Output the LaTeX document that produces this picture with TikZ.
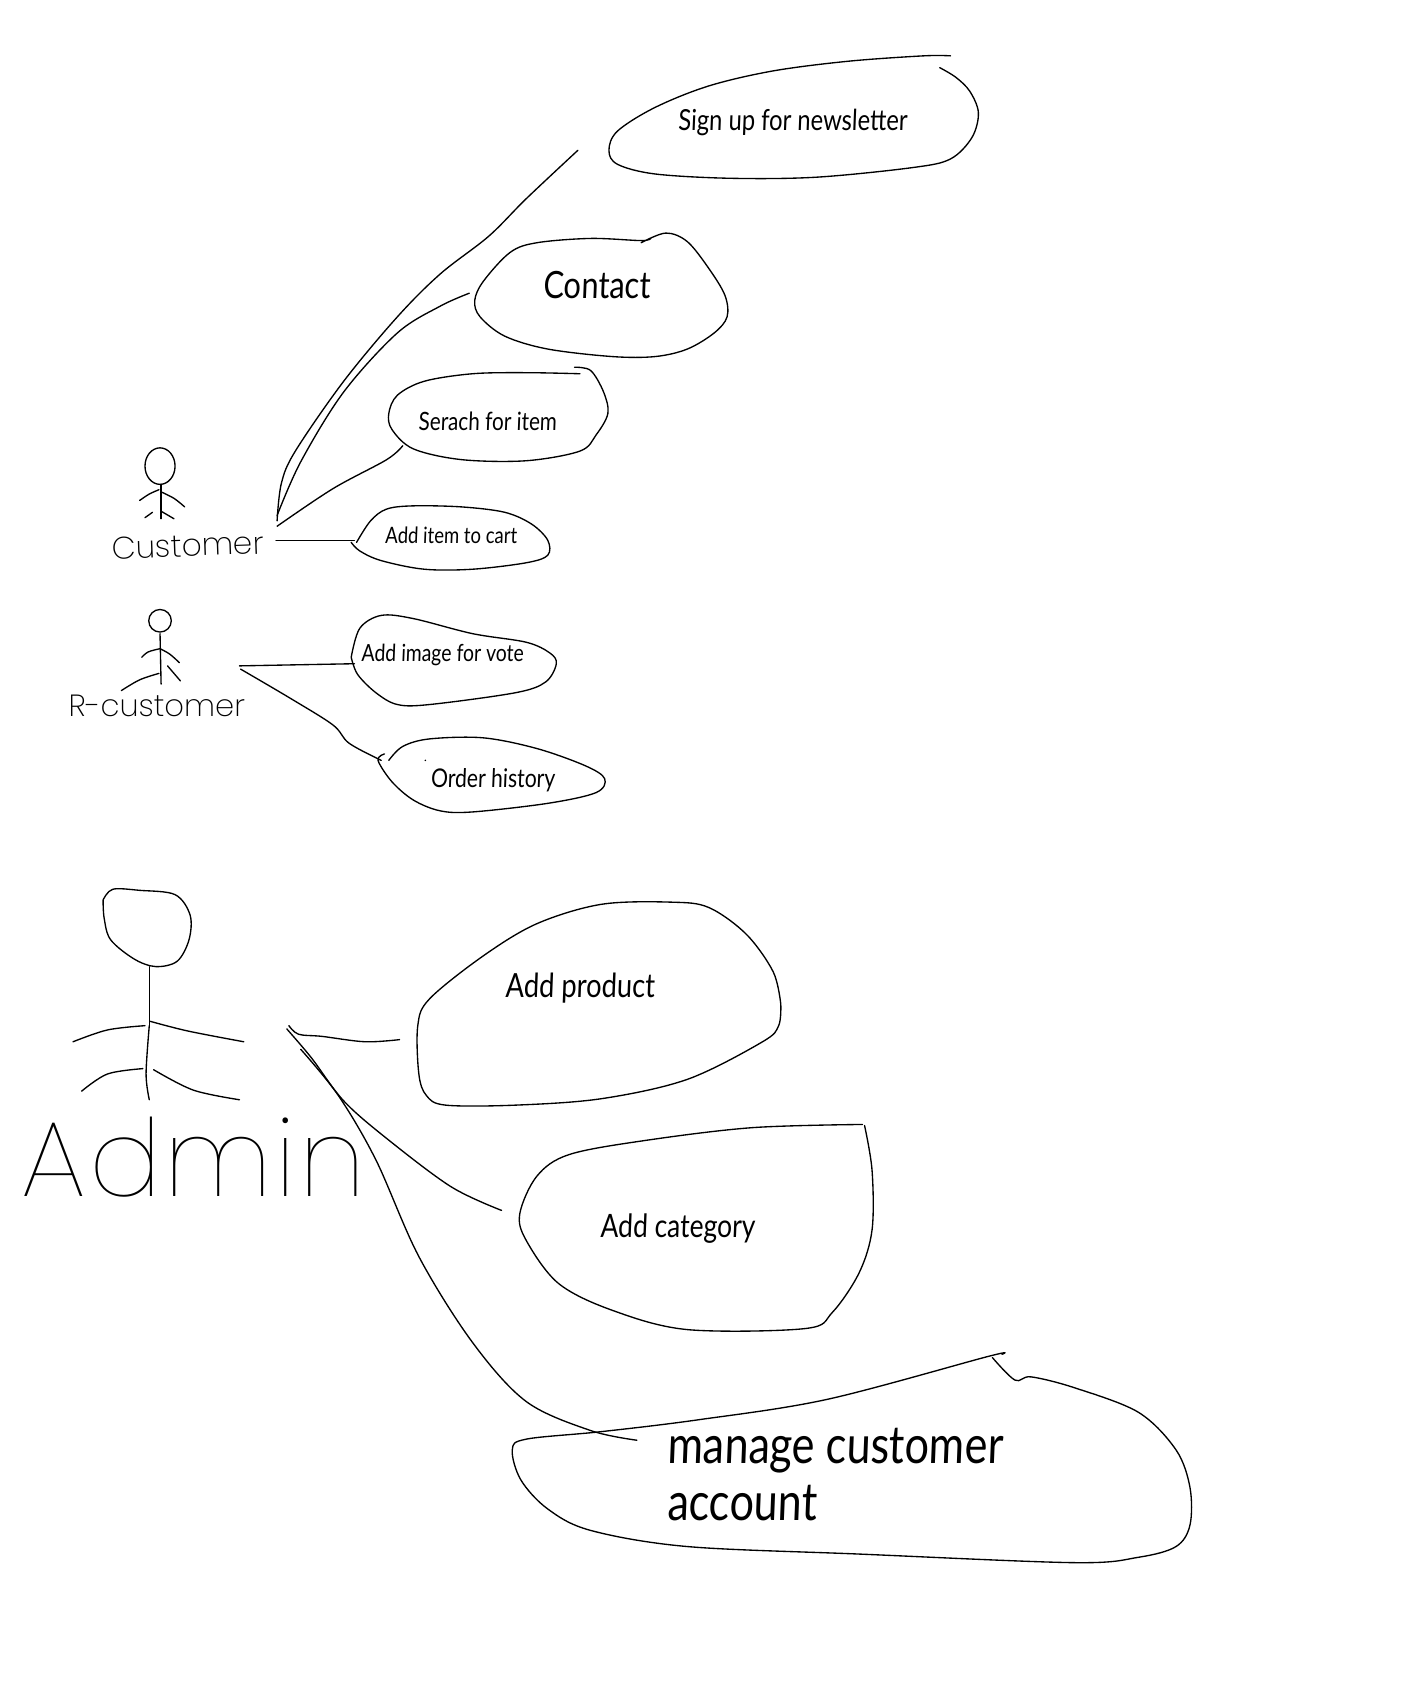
\documentclass[tikz,border=0pt]{standalone}
\usepackage{fontspec}
\setmainfont{Lato}
\newfontfamily\handfont[FakeStretch=0.82,FakeSlant=0.04]{Lato}
\newfontfamily\sketchfont{Poppins Thin}
\newfontfamily\sketchsmallfont{Poppins ExtraLight}
\newcommand{\fsz}[1]{\fontsize{#1}{#1}\selectfont}
\tikzset{
  ink/.style={draw=black,line width=1.25pt,line cap=round,line join=round},
  blob/.style={ink,smooth,tension=0.55},
  wire/.style={ink,smooth,tension=0.55},
  label/.style={font=\handfont,text=black,inner sep=0pt,align=left},
  sketchlabel/.style={font=\sketchfont,text=black,inner sep=0pt}
}
\begin{document}
\begin{tikzpicture}[x=1pt,y=-1pt]
\useasboundingbox (0,0) rectangle (1313,1568);
% use-case outlines
\draw[blob] plot coordinates {(885,52)(860,52)(790,57)(720,66)(660,80)(610,100)(575,122)(567,140)(575,153)(610,162)(680,166)(760,165)(850,156)(885,148)(905,128)(911,105)(903,85)(890,72)(875,63)};
\draw[blob] plot coordinates {(597,226)(620,217)(640,225)(660,250)(675,275)(677,295)(665,310)(640,325)(610,332)(570,332)(510,325)(470,313)(447,295)(442,280)(450,262)(475,235)(500,226)(550,222)(597,224)(606,222)};
\draw[blob] plot coordinates {(535,342)(550,345)(562,365)(566,385)(555,405)(540,420)(490,429)(430,428)(385,418)(365,400)(362,385)(370,368)(395,355)(440,348)(490,347)(540,348)};
\draw[blob] plot coordinates {(332,505)(345,485)(360,474)(385,471)(430,472)(470,477)(495,488)(510,503)(510,517)(490,524)(440,530)(395,530)(355,522)(335,513)(327,505)};
\draw[blob] plot coordinates {(327,612)(335,585)(355,573)(385,576)(440,590)(490,598)(512,608)(518,618)(508,635)(480,645)(400,656)(370,656)(350,645)(333,628)(327,612)};
\draw[blob] plot coordinates {(362,708)(375,695)(400,688)(450,687)(500,697)(545,713)(563,725)(555,738)(510,748)(440,756)(410,755)(385,745)(365,728)(352,708)(358,702)};
\fill (396,708) circle (0.8);
\draw[blob] plot coordinates {(727,935)(720,905)(695,870)(660,845)(625,840)(560,842)(500,860)(450,890)(400,930)(389,955)(390,1000)(397,1020)(415,1029)(480,1029)(560,1023)(640,1005)(710,970)(725,955)(727,935)};
\draw[blob] plot coordinates {(803,1047)(700,1050)(600,1062)(530,1075)(500,1095)(484,1130)(490,1155)(520,1195)(570,1220)(640,1238)(750,1237)(775,1222)(800,1185)(812,1145)(812,1090)(805,1048)};
\draw[blob] plot coordinates {(933,1261)(920,1263)(770,1303)(650,1322)(560,1333)(490,1340)(477,1350)(485,1378)(510,1405)(550,1425)(640,1440)(800,1447)(1000,1455)(1060,1450)(1095,1440)(1108,1420)(1108,1385)(1095,1350)(1060,1315)(1000,1292)(960,1282)(945,1285)(924,1264)};
% use-case labels
\node[label,font=\handfont\fsz{27}] (signup) at (738,114) {Sign up for newsletter};
\node[label,font=\handfont\fsz{35}] (contact) at (556,265) {Contact};
\node[label,font=\handfont\fsz{23.5}] (search) at (454,392) {Serach for item};
\node[label,font=\handfont\fsz{21}] (additem) at (420,498) {Add item to cart};
\node[label,font=\handfont\fsz{22}] (addimage) at (412,610) {Add image for vote};
\node[label,font=\handfont\fsz{24}] (orderhist) at (459,726) {Order history};
\node[label,font=\handfont\fsz{31}] (addprod) at (540,920) {Add product};
\node[label,font=\handfont\fsz{30}] (addcat) at (631,1144) {Add category};
\node[label,font=\handfont\fsz{49},anchor=north west,align=left] (manage) at (621,1330) {manage customer\\[4pt]account};
% actors
\draw[ink] (149,434) ellipse (14 and 17);
\draw[ink] (150,451) -- (150,483);
\draw[wire] plot coordinates {(130,466)(139,460)(148,456)};
\draw[wire] plot coordinates {(150,458)(162,464)(172,472)};
\draw[ink] (135,482) -- (142,477);
\draw[ink] (150,476) -- (162,483);
\draw[ink] (149,578) ellipse (10.5 and 10.5);
\draw[ink] (149,590) -- (150,637);
\draw[wire] plot coordinates {(132,612)(138,607)(149,604)};
\draw[wire] plot coordinates {(149,604)(158,609)(167,617)};
\draw[wire] plot coordinates {(113,643)(130,633)(148,627)};
\draw[ink] (156,620) -- (168,634);
\draw[blob] plot coordinates {(96,838)(105,828)(130,829)(163,833)(177,852)(176,875)(165,895)(145,900)(125,893)(103,875)(97,855)(96,838)};
\draw[ink] (139,900) -- (139,955);
\draw[wire] plot coordinates {(139,955)(136,1000)(139,1024)};
\draw[wire] plot coordinates {(68,970)(100,959)(135,955)};
\draw[wire] plot coordinates {(140,951)(175,960)(227,970)};
\draw[wire] plot coordinates {(76,1016)(100,1000)(133,995)};
\draw[wire] plot coordinates {(143,996)(180,1015)(223,1024)};
% actor labels
\node[sketchlabel,font=\sketchsmallfont\fsz{29},rotate=2] (customer) at (175,508) {Customer};
\node[sketchlabel,font=\sketchsmallfont\fsz{28.5}] (rcustomer) at (146,657) {R-customer};
\node[sketchlabel,font=\sketchfont\addfontfeature{LetterSpace=3}\fsz{100}] (admin) at (180,1077) {Admin};
% connector ends
\coordinate (custA) at (258,485);
\coordinate (custB) at (258,480);
\coordinate (custC) at (258,490);
\coordinate (custD) at (257,503);
\coordinate (rcA) at (223,620);
\coordinate (rcB) at (224,623);
\coordinate (admA) at (269,955);
\coordinate (admB) at (267,958);
\coordinate (admC) at (280,977);
\coordinate (ucSign) at (538,140);
\coordinate (ucContact) at (437,273);
\coordinate (ucSearch) at (375,415);
\coordinate (ucCart) at (330,503);
\coordinate (ucImage) at (330,618);
\coordinate (ucOrder) at (355,708);
\coordinate (ucProd) at (372,968);
\coordinate (ucCat) at (467,1127);
\coordinate (ucManage) at (593,1341);
% connectors
\draw[wire] plot coordinates {(custA)(262,450)(275,420)(320,355)(370,295)(410,255)(455,220)(490,185)(ucSign)};
\draw[wire] plot coordinates {(custB)(280,430)(320,365)(370,310)(410,285)(ucContact)};
\draw[wire] plot coordinates {(custC)(310,455)(360,428)(ucSearch)};
\draw[ink] (custD) -- (ucCart);
\draw[ink] (rcA) -- (ucImage);
\draw[wire] plot coordinates {(rcB)(270,650)(310,675)(325,692)(ucOrder)};
\draw[wire] plot coordinates {(admA)(278,963)(300,965)(340,970)(ucProd)};
\draw[wire] plot coordinates {(admB)(290,985)(320,1025)(360,1060)(420,1105)(ucCat)};
\draw[wire] plot coordinates {(admC)(315,1020)(350,1080)(390,1170)(440,1250)(490,1305)(550,1332)(ucManage)};
\end{tikzpicture}
\end{document}
